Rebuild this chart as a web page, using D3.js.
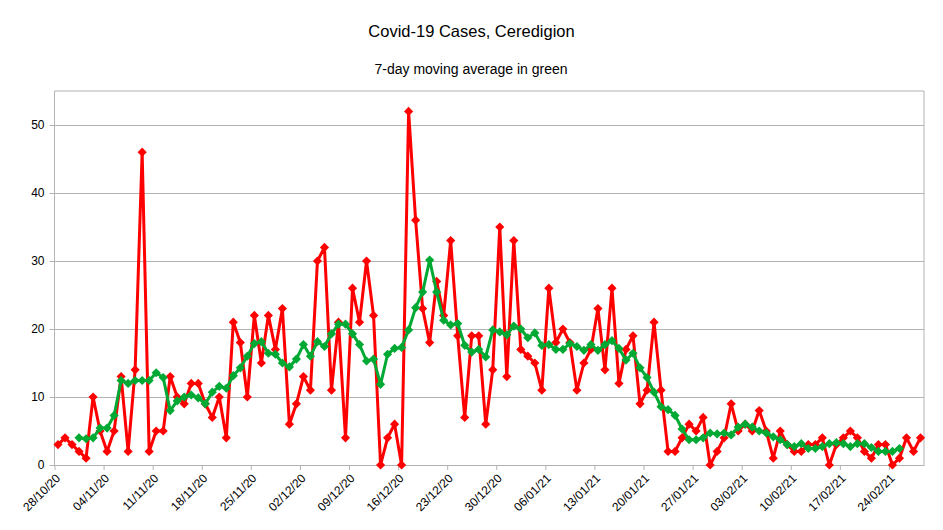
<!DOCTYPE html>
<html>
<head>
<meta charset="utf-8">
<script src="https://cdn.jsdelivr.net/npm/d3@7"></script>
<style>
  html, body { margin: 0; padding: 0; background: #fff; }
  svg { display: block; font-family: "Liberation Sans", Arial, sans-serif; }
</style>
</head>
<body>
<svg id="chart" width="943" height="530"></svg>
<script>
// ---- Data ----
const titleText = "Covid-19 Cases, Ceredigion";
const subtitleText = "7-day moving average in green";

const startDay = "28/10/20";   // first category
const endDayExclusive = "01/03/21";

const dailyCases = [
  3, 4, 3, 2, 1, 10, 5, 2, 5, 13,
  2, 14, 46, 2, 5, 5, 13, 10, 9, 12,
  12, 9, 7, 10, 4, 21, 18, 10, 22, 15,
  22, 17, 23, 6, 9, 13, 11, 30, 32, 11,
  21, 4, 26, 21, 30, 22, 0, 4, 6, 0,
  52, 36, 23, 18, 27, 22, 33, 19, 7, 19,
  19, 6, 14, 35, 13, 33, 17, 16, 15, 11,
  26, 18, 20, 18, 11, 15, 17, 23, 14, 26,
  12, 17, 19, 9, 11, 21, 11, 2, 2, 4,
  6, 5, 7, 0, 2, 4, 9, 5, 6, 5,
  8, 5, 1, 5, 3, 2, 2, 3, 3, 4,
  0, 3, 4, 5, 4, 2, 1, 3, 3, 0,
  1, 4, 2, 4
];

const movingAverage = [
  null, null, null, 4.0, 3.86, 4.0, 5.43, 5.43, 7.29, 12.43,
  12.0, 12.43, 12.43, 12.43, 13.57, 12.86, 8.0, 9.43, 10.0, 10.29,
  9.86, 9.0, 10.71, 11.57, 11.29, 13.14, 14.29, 16.0, 17.86, 18.14,
  16.43, 16.29, 15.0, 14.43, 15.57, 17.71, 16.0, 18.14, 17.43, 19.29,
  20.71, 20.71, 19.29, 17.71, 15.29, 15.57, 11.86, 16.29, 17.14, 17.29,
  19.86, 23.14, 25.43, 30.14, 25.43, 21.29, 20.6, 20.8, 17.6, 16.6,
  17.0, 15.9, 19.86, 19.57, 19.14, 20.43, 20.0, 18.71, 19.43, 17.57,
  17.71, 17.0, 17.0, 17.86, 17.43, 16.86, 17.71, 16.86, 17.71, 18.29,
  17.14, 15.43, 16.43, 14.29, 12.86, 10.71, 8.57, 8.14, 7.29, 5.29,
  3.71, 3.71, 4.0, 4.71, 4.57, 4.71, 4.43, 5.57, 6.0, 5.57,
  5.0, 4.71, 4.14, 3.71, 3.0, 2.71, 3.14, 2.43, 2.43, 2.71,
  3.14, 3.29, 3.14, 2.71, 3.14, 3.14, 2.57, 2.0, 2.0, 2.0,
  2.43, null, null, null
];

const tickLabels = [
  "28/10/20", "04/11/20", "11/11/20", "18/11/20", "25/11/20", "02/12/20",
  "09/12/20", "16/12/20", "23/12/20", "30/12/20", "06/01/21", "13/01/21",
  "20/01/21", "27/01/21", "03/02/21", "10/02/21", "17/02/21", "24/02/21"
];

const yTicks = [0, 10, 20, 30, 40, 50];
const yMax = 55;

// ---- Layout ----
const plot = { left: 54.5, right: 924, top: 91, bottom: 465 };
const RED = "#ff0000", GREEN = "#00a933", GRID = "#b3b3b3";

const parse = d3.utcParse("%d/%m/%y");
const d0 = parse(startDay), d1 = parse(endDayExclusive);
const days = d3.utcDay.range(d0, d1);

const x = d3.scaleUtc().domain([d0, d1]).range([plot.left, plot.right]);
const y = d3.scaleLinear().domain([0, yMax]).range([plot.bottom, plot.top]);
const xMid = d => x(d3.utcHour.offset(d, 12));

const svg = d3.select("#chart");

// Title & subtitle
svg.append("text").attr("x", 471.5).attr("y", 36.5).attr("text-anchor", "middle")
  .attr("font-size", 16.5).attr("fill", "#000").text(titleText);
svg.append("text").attr("x", 471).attr("y", 73.5).attr("text-anchor", "middle")
  .attr("font-size", 14).attr("fill", "#000").text(subtitleText);

// Horizontal gridlines + y axis
const yAxis = d3.axisLeft(y).tickValues(yTicks).tickSize(-(plot.right - plot.left)).tickSizeOuter(0).tickPadding(10);
const gy = svg.append("g").attr("transform", `translate(${plot.left},0)`).call(yAxis);
gy.select(".domain").remove();
gy.selectAll(".tick line").attr("stroke", GRID).attr("x1", -5);
gy.selectAll(".tick text").attr("font-size", 12).attr("fill", "#000").attr("x", -10)
  .attr("font-family", "Liberation Sans, Arial, sans-serif");

// Frame: top, right, left
svg.append("line").attr("x1", plot.left).attr("x2", plot.right).attr("y1", y(yMax)).attr("y2", y(yMax)).attr("stroke", GRID);
svg.append("line").attr("x1", plot.right).attr("x2", plot.right).attr("y1", plot.top).attr("y2", plot.bottom).attr("stroke", GRID);
svg.append("line").attr("x1", plot.left).attr("x2", plot.left).attr("y1", plot.top).attr("y2", plot.bottom).attr("stroke", GRID);

// X axis
const tickDates = tickLabels.map(parse);
const xAxis = d3.axisBottom(x).tickValues(tickDates).tickSize(5).tickSizeOuter(0).tickFormat((d, i) => tickLabels[i]);
const gx = svg.append("g").attr("transform", `translate(0,${plot.bottom})`).call(xAxis);
gx.select(".domain").attr("stroke", GRID);
gx.selectAll(".tick line").attr("stroke", GRID);
gx.selectAll(".tick text")
  .attr("font-size", 12).attr("fill", "#000")
  .attr("font-family", "Liberation Sans, Arial, sans-serif")
  .attr("text-anchor", "end")
  .attr("dy", null).attr("y", null)
  .attr("transform", "translate(6,14) rotate(-45)");

// Lines
const diamond = d3.symbol().type(d3.symbolDiamond2 || d3.symbolDiamond).size(60);
function drawSeries(values, color) {
  const pts = values.map((v, i) => ({ d: days[i], v })).filter(p => p.v !== null);
  const line = d3.line().x(p => xMid(p.d)).y(p => y(p.v));
  svg.append("path").datum(pts).attr("d", line).attr("fill", "none")
    .attr("stroke", color).attr("stroke-width", 3).attr("stroke-linejoin", "round");
  svg.append("g").selectAll("path").data(pts).join("path")
    .attr("d", d3.symbol().type(d3.symbolSquare).size(42))
    .attr("transform", p => `translate(${xMid(p.d)},${y(p.v)}) rotate(45)`)
    .attr("fill", color);
}
drawSeries(dailyCases, RED);
drawSeries(movingAverage, GREEN);
</script>
</body>
</html>
